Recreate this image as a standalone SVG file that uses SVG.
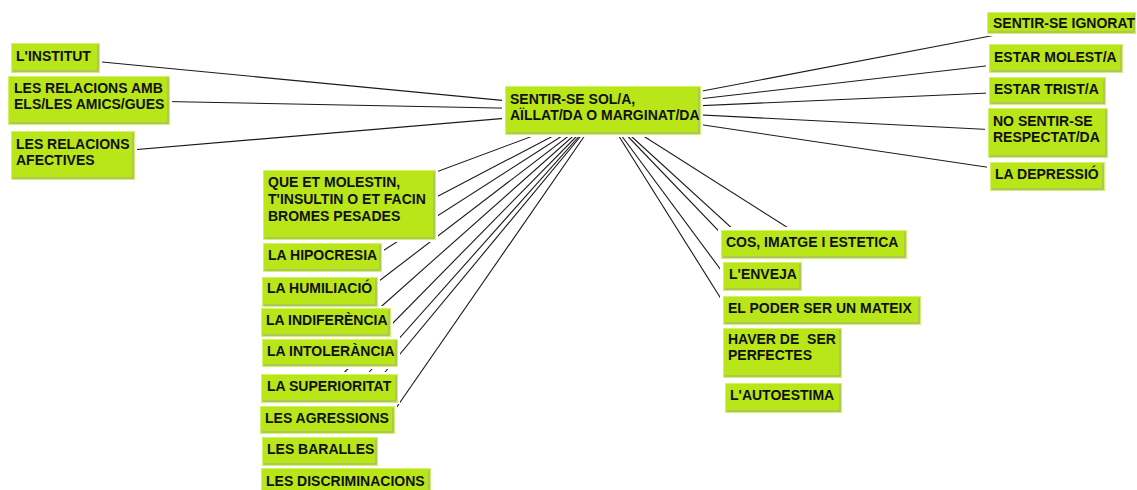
<svg xmlns="http://www.w3.org/2000/svg" width="1137" height="490" viewBox="0 0 1137 490">
<style>
.bg{fill:#ffffff}
.c line{stroke:#1a1a1a;stroke-width:1.1}
.halo{fill:#ffffff}
.box{fill:#b9e619;stroke:#d3f26a;stroke-width:1}
.sh{fill:none;stroke:#a3a89a;stroke-width:1}
text{font-family:"Liberation Sans",Arial,sans-serif;font-weight:bold;font-size:14px;fill:#111111}
</style>
<rect class="bg" x="0" y="0" width="1137" height="490"/>
<g id="connectors" class="c">
<line x1="602.5" y1="110" x2="55" y2="57.5"/>
<line x1="602.5" y1="110" x2="88.5" y2="100"/>
<line x1="602.5" y1="110" x2="72.5" y2="155"/>
<line x1="602.5" y1="110" x2="1061.5" y2="22.5"/>
<line x1="602.5" y1="110" x2="1055.5" y2="58"/>
<line x1="602.5" y1="110" x2="1047" y2="90.5"/>
<line x1="602.5" y1="110" x2="1047.5" y2="132.5"/>
<line x1="602.5" y1="110" x2="1047" y2="176"/>
<line x1="602.5" y1="110" x2="349" y2="204.5"/>
<line x1="602.5" y1="110" x2="322" y2="257"/>
<line x1="602.5" y1="110" x2="319.5" y2="291.5"/>
<line x1="602.5" y1="110" x2="325.5" y2="322"/>
<line x1="602.5" y1="110" x2="329.5" y2="352.5"/>
<line x1="602.5" y1="110" x2="329" y2="388"/>
<line x1="602.5" y1="110" x2="327" y2="419.5"/>
<line x1="602.5" y1="110" x2="319.5" y2="451"/>
<line x1="602.5" y1="110" x2="345.5" y2="481"/>
<line x1="602.5" y1="110" x2="813.5" y2="244"/>
<line x1="602.5" y1="110" x2="762" y2="276"/>
<line x1="602.5" y1="110" x2="821.5" y2="310"/>
<line x1="602.5" y1="110" x2="782" y2="352.5"/>
<line x1="602.5" y1="110" x2="783" y2="397.5"/>
</g>
<g id="halos">
<rect class="halo" x="502" y="83" width="201" height="54"/>
<rect class="halo" x="8" y="40" width="94" height="35"/>
<rect class="halo" x="5" y="73" width="167" height="54"/>
<rect class="halo" x="8" y="128" width="129" height="54"/>
<rect class="halo" x="984" y="9" width="155" height="27"/>
<rect class="halo" x="986" y="41" width="139" height="34"/>
<rect class="halo" x="986" y="74" width="122" height="33"/>
<rect class="halo" x="985" y="105" width="125" height="55"/>
<rect class="halo" x="987" y="159" width="120" height="34"/>
<rect class="halo" x="260" y="167" width="178" height="75"/>
<rect class="halo" x="260" y="240" width="124" height="34"/>
<rect class="halo" x="259" y="274" width="121" height="35"/>
<rect class="halo" x="258" y="306" width="135" height="33"/>
<rect class="halo" x="259" y="337" width="141" height="32"/>
<rect class="halo" x="258" y="372" width="142" height="32"/>
<rect class="halo" x="257" y="404" width="140" height="32"/>
<rect class="halo" x="259" y="435" width="121" height="32"/>
<rect class="halo" x="258" y="466" width="175" height="30"/>
<rect class="halo" x="718" y="227" width="191" height="34"/>
<rect class="halo" x="720" y="259" width="84" height="34"/>
<rect class="halo" x="720" y="293" width="203" height="34"/>
<rect class="halo" x="720" y="326" width="124" height="54"/>
<rect class="halo" x="722" y="380" width="122" height="35"/>
</g>
<g id="n-center">
<rect class="box" x="505.5" y="86.5" width="195" height="48"/>
<path class="sh" d="M699 88V133H507"/>
<text x="510" y="104">SENTIR-SE SOL/A,</text>
<text x="510" y="120">AÏLLAT/DA O MARGINAT/DA</text>
</g>
<g id="n-institut">
<rect class="box" x="11.5" y="43.5" width="88" height="29"/>
<path class="sh" d="M98 45V71H13"/>
<text x="16" y="61">L'INSTITUT</text>
</g>
<g id="n-amics">
<rect class="box" x="8.5" y="76.5" width="161" height="48"/>
<path class="sh" d="M168 78V123H10"/>
<text x="14" y="93">LES RELACIONS AMB</text>
<text x="14" y="109">ELS/LES AMICS/GUES</text>
</g>
<g id="n-afectives">
<rect class="box" x="11.5" y="131.5" width="123" height="48"/>
<path class="sh" d="M133 133V178H13"/>
<text x="16" y="149">LES RELACIONS</text>
<text x="16" y="165">AFECTIVES</text>
</g>
<g id="n-ignorat">
<rect class="box" x="987.5" y="12.5" width="148" height="21"/>
<path class="sh" d="M1134 14V32H989"/>
<text x="993" y="28">SENTIR-SE IGNORAT</text>
</g>
<g id="n-molest">
<rect class="box" x="989.5" y="44.5" width="133" height="28"/>
<path class="sh" d="M1121 46V71H991"/>
<text x="994" y="62">ESTAR MOLEST/A</text>
</g>
<g id="n-trist">
<rect class="box" x="989.5" y="77.5" width="116" height="27"/>
<path class="sh" d="M1104 79V103H991"/>
<text x="994" y="94">ESTAR TRIST/A</text>
</g>
<g id="n-respectat">
<rect class="box" x="988.5" y="108.5" width="119" height="49"/>
<path class="sh" d="M1106 110V156H990"/>
<text x="993" y="126">NO SENTIR-SE</text>
<text x="993" y="142">RESPECTAT/DA</text>
</g>
<g id="n-depressio">
<rect class="box" x="990.5" y="162.5" width="114" height="28"/>
<path class="sh" d="M1103 164V189H992"/>
<text x="995" y="179">LA DEPRESSIÓ</text>
</g>
<g id="n-molestin">
<rect class="box" x="263.5" y="170.5" width="172" height="69"/>
<path class="sh" d="M434 172V238H265"/>
<text x="268" y="187">QUE ET MOLESTIN,</text>
<text x="268" y="204">T'INSULTIN O ET FACIN</text>
<text x="268" y="221">BROMES PESADES</text>
</g>
<g id="n-hipocresia">
<rect class="box" x="263.5" y="243.5" width="118" height="28"/>
<path class="sh" d="M380 245V270H265"/>
<text x="268" y="260">LA HIPOCRESIA</text>
</g>
<g id="n-humiliacio">
<rect class="box" x="262.5" y="277.5" width="115" height="29"/>
<path class="sh" d="M376 279V305H264"/>
<text x="267" y="293">LA HUMILIACIÓ</text>
</g>
<g id="n-indiferencia">
<rect class="box" x="261.5" y="308.5" width="129" height="28"/>
<path class="sh" d="M389 310V335H263"/>
<text x="266" y="325">LA INDIFERÈNCIA</text>
</g>
<g id="n-intolerancia">
<rect class="box" x="262.5" y="339.5" width="135" height="27"/>
<path class="sh" d="M396 341V365H264"/>
<text x="267" y="356">LA INTOLERÀNCIA</text>
</g>
<g id="n-superioritat">
<rect class="box" x="261.5" y="374.5" width="136" height="28"/>
<path class="sh" d="M396 376V401H263"/>
<text x="267" y="391">LA SUPERIORITAT</text>
</g>
<g id="n-agressions">
<rect class="box" x="260.5" y="406.5" width="134" height="27"/>
<path class="sh" d="M393 408V432H262"/>
<text x="265" y="423">LES AGRESSIONS</text>
</g>
<g id="n-baralles">
<rect class="box" x="262.5" y="437.5" width="115" height="28"/>
<path class="sh" d="M376 439V464H264"/>
<text x="267" y="454">LES BARALLES</text>
</g>
<g id="n-discriminacions">
<rect class="box" x="261.5" y="468.5" width="169" height="26"/>
<path class="sh" d="M429 470V493H263"/>
<text x="266" y="486">LES DISCRIMINACIONS</text>
</g>
<g id="n-cos">
<rect class="box" x="721.5" y="230.5" width="185" height="28"/>
<path class="sh" d="M905 232V257H723"/>
<text x="726" y="247">COS, IMATGE I ESTETICA</text>
</g>
<g id="n-enveja">
<rect class="box" x="723.5" y="262.5" width="78" height="28"/>
<path class="sh" d="M800 264V289H725"/>
<text x="729" y="279">L'ENVEJA</text>
</g>
<g id="n-poder">
<rect class="box" x="723.5" y="296.5" width="197" height="28"/>
<path class="sh" d="M919 298V323H725"/>
<text x="728" y="313">EL PODER SER UN MATEIX</text>
</g>
<g id="n-perfectes">
<rect class="box" x="723.5" y="328.5" width="118" height="49"/>
<path class="sh" d="M840 330V376H725"/>
<text x="728" y="344" xml:space="preserve">HAVER DE  SER</text>
<text x="728" y="360">PERFECTES</text>
</g>
<g id="n-autoestima">
<rect class="box" x="725.5" y="383.5" width="116" height="29"/>
<path class="sh" d="M840 385V411H727"/>
<text x="730" y="400">L'AUTOESTIMA</text>
</g>
</svg>
